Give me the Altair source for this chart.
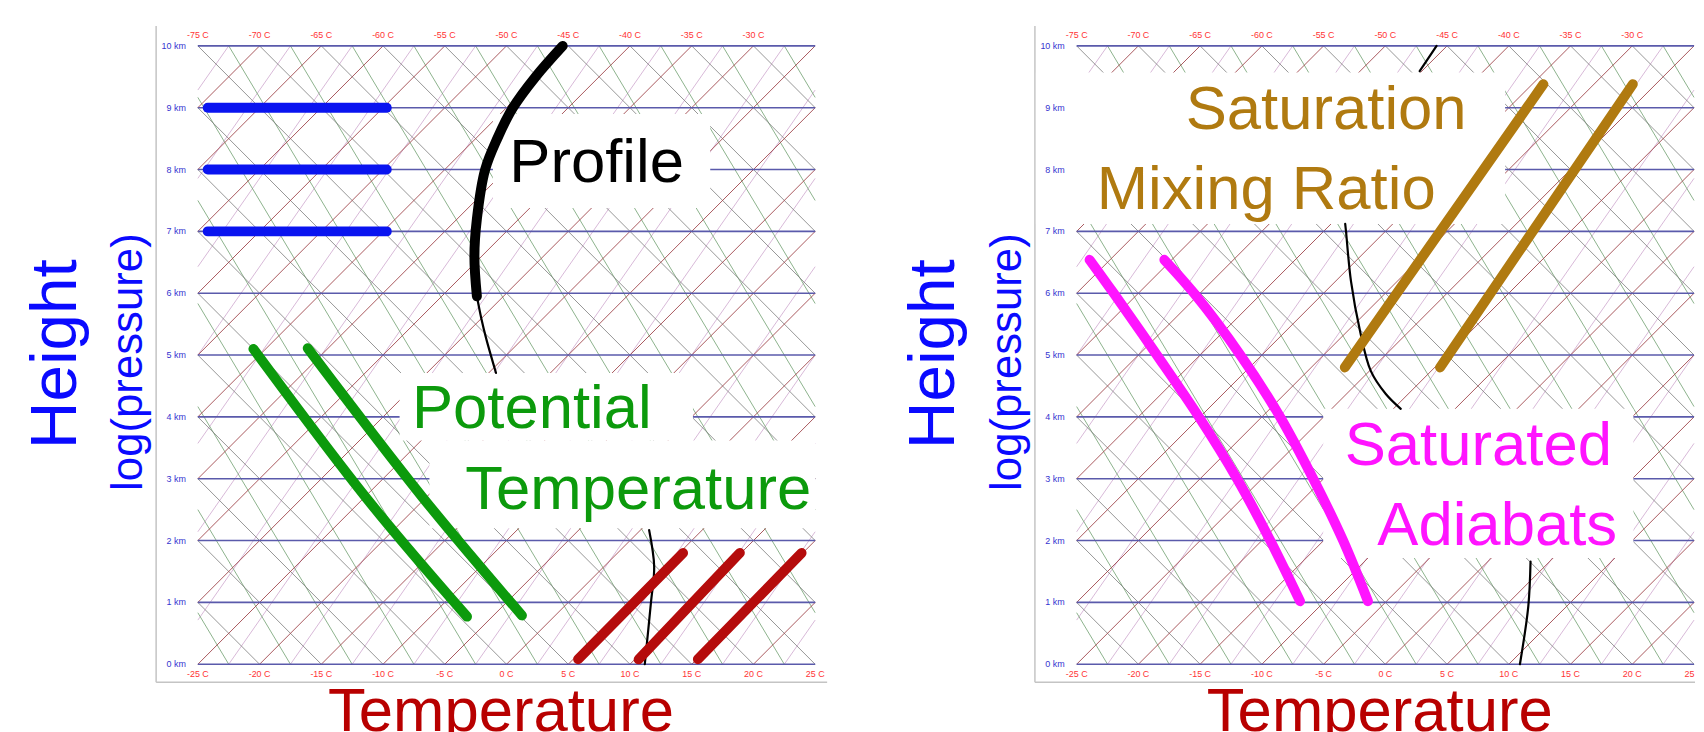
import altair as alt
import pandas as pd

# ---------------- data ----------------
KM_LEVELS = [0, 1, 2, 3, 4, 5, 6, 7, 8, 9, 10]
KM_LABELS = ["0 km", "1 km", "2 km", "3 km", "4 km", "5 km", "6 km", "7 km", "8 km", "9 km", "10 km"]
BOTTOM_TICKS = [-25, -20, -15, -10, -5, 0, 5, 10, 15, 20, 25]
BOTTOM_LABELS = ["-25 C", "-20 C", "-15 C", "-10 C", "-5 C", "0 C", "5 C", "10 C", "15 C", "20 C", "25 C"]
TOP_TICK_POS = [-25, -20, -15, -10, -5, 0, 5, 10, 15, 20]
TOP_LABELS = ["-75 C", "-70 C", "-65 C", "-60 C", "-55 C", "-50 C", "-45 C", "-40 C", "-35 C", "-30 C"]

# background line families: value of each line where it meets the 0 km level
ISOTHERM_BASES = [-75, -70, -65, -60, -55, -50, -45, -40, -35, -30, -25, -20, -15, -10, -5, 0, 5, 10, 15, 20]
DRY_ADIABAT_BASES = [-20, -15, -10, -5, 0, 5, 10, 15, 20, 25, 30, 35, 40, 45, 50, 55, 60, 65, 70, 75]
MOIST_ADIABAT_BASES = [-22.5, -17.5, -12.5, -7.5, -2.5, 2.5, 7.5, 12.5, 17.5, 22.5, 27.5, 32.5, 37.5, 42.5, 47.5, 52.5]
MIXING_RATIO_BASES = [-57.5, -52.5, -47.5, -42.5, -37.5, -32.5, -27.5, -22.5, -17.5, -12.5, -7.5, -2.5, 2.5, 7.5, 12.5, 17.5, 22.5]

# left panel highlight lines (x = skewed temperature position, h = km)
BLUE_LEVELS = [7, 8, 9]
BLUE_X = [-24.2, -9.7]

PROFILE_THICK_X = [4.55, 2.35, 0.52, -0.75, -1.73, -2.4, -2.6, -2.4]
PROFILE_THICK_H = [10.0, 9.5, 9.0, 8.5, 8.0, 7.2, 6.6, 5.95]
PROFILE_THIN_X = [-2.4, -2.05, -1.65, -0.85]
PROFILE_THIN_H = [5.95, 5.6, 5.27, 4.71]
PROFILE_LOW_X = [11.55, 11.96, 11.7, 11.2]
PROFILE_LOW_H = [2.17, 1.58, 1.0, 0.0]

THETA1_X = [-20.5, -11.2, -3.2]
THETA1_H = [5.1, 2.65, 0.77]
THETA2_X = [-16.1, -6.8, 1.25]
THETA2_H = [5.11, 2.7, 0.79]

TEMP_START_X = [5.8, 10.7, 15.5]
TEMP_END_X = [14.3, 18.9, 23.9]
TEMP_H = [0.08, 1.80]

# right panel
R_PROFILE_TOP_X = [4.15, 2.78]
R_PROFILE_TOP_H = [10.0, 9.59]
R_PROFILE_MID_X = [-3.25, -3.18, -2.78, -2.05, -1.17, 0.04, 1.25]
R_PROFILE_MID_H = [7.12, 6.99, 6.19, 5.39, 4.74, 4.37, 4.13]
R_PROFILE_LOW_X = [11.76, 11.58, 10.9]
R_PROFILE_LOW_H = [1.66, 0.94, 0.0]

MIX1_X = [-3.28, 12.8]
MIX2_X = [4.43, 20.04]
MIX_H = [4.8, 9.38]

SAT1_X = [-23.95, -22.0, -18.5, -15.1, -12.01, -9.32, -6.91]
SAT2_X = [-17.9, -15.5, -11.74, -8.52, -5.84, -3.42, -1.41]
SAT_H = [6.54, 6.0, 5.0, 4.0, 3.0, 2.0, 1.02]

# ---------------- helpers ----------------
FONT = "Liberation Sans"
Y_DOMAIN = [-0.29, 10.32]
PLOT_H = 660


def clip_segment(x0, s):
    lo, hi = 0.0, 10.0
    ha = (-25 - x0) / s
    hb = (25 - x0) / s
    lo = max(lo, min(ha, hb))
    hi = min(hi, max(ha, hb))
    if hi <= lo:
        return None
    return (x0 + s * lo, lo, x0 + s * hi, hi)


def family(bases, slope):
    rows = []
    for b in bases:
        seg = clip_segment(b, slope)
        if seg:
            rows.append(dict(x1=seg[0], h1=seg[1], x2=seg[2], h2=seg[3]))
    return pd.DataFrame(rows)


def line_df(series):
    rows = []
    for sid, (xs, hs) in enumerate(series):
        for i, (x, h) in enumerate(zip(xs, hs)):
            rows.append(dict(s=sid, o=i, x=x, h=h))
    return pd.DataFrame(rows)


def panel(side):
    if side == "left":
        width, xdom = 675, [-28.38, 25.97]
    else:
        width, xdom = 664, [-28.38, 25.08]
    xs = alt.Scale(domain=xdom, nice=False, zero=False)
    ys = alt.Scale(domain=Y_DOMAIN, nice=False, zero=False)

    def X(f, **kw):
        return alt.X(f, scale=xs, axis=None, **kw)

    def Y(f, **kw):
        return alt.Y(f, scale=ys, axis=None, **kw)

    layers = []

    # frame: left and bottom border of the panel
    one = pd.DataFrame({"t": [0]})
    layers.append(alt.Chart(one).mark_rule(color="#c4c4c4", strokeWidth=1.5).encode(
        x=alt.X(datum=xdom[0], scale=xs, axis=None),
        y=alt.Y(datum=Y_DOMAIN[0], scale=ys, axis=None), y2=alt.Y2(datum=Y_DOMAIN[1])))
    layers.append(alt.Chart(one).mark_rule(color="#c4c4c4", strokeWidth=1.5).encode(
        x=alt.X(datum=xdom[0], scale=xs, axis=None), x2=alt.X2(datum=xdom[1]),
        y=alt.Y(datum=Y_DOMAIN[0], scale=ys, axis=None)))

    fams = [
        (MIXING_RATIO_BASES, 3.5, "#c79ac7", 0.7),
        (MOIST_ADIABAT_BASES, -3.0, "#6f9f6f", 0.8),
        (DRY_ADIABAT_BASES, -5.0, "#7c7c7c", 0.8),
        (ISOTHERM_BASES, 5.0, "#a0474c", 0.9),
    ]
    for bases, slope, col, w in fams:
        layers.append(alt.Chart(family(bases, slope)).mark_rule(color=col, strokeWidth=w).encode(
            x=X("x1:Q"), x2="x2:Q", y=Y("h1:Q"), y2="h2:Q"))

    km = pd.DataFrame({"h": KM_LEVELS, "label": KM_LABELS})
    layers.append(alt.Chart(km).mark_rule(color="#5a5aab", strokeWidth=1.6).encode(
        x=alt.X(datum=-25, scale=xs, axis=None), x2=alt.X2(datum=25), y=Y("h:Q")))

    # white boxes behind annotations
    if side == "left":
        boxes = pd.DataFrame({"xa": [-1.1, -8.66, -6.24], "xb": [16.5, 15.1, 25.0],
                              "ha": [7.38, 3.62, 2.2], "hb": [8.9, 4.71, 3.62]})
    else:
        boxes = pd.DataFrame({"xa": [-28.3, -5.03], "xb": [9.7, 20.09],
                              "ha": [7.12, 1.72], "hb": [9.57, 4.13]})
    layers.append(alt.Chart(boxes).mark_rect(color="white").encode(
        x=X("xa:Q"), x2="xb:Q", y=Y("ha:Q"), y2="hb:Q"))

    # tick labels
    layers.append(alt.Chart(km).mark_text(fontSize=9, font=FONT, color="#3434d0", align="right",
                                          baseline="middle", dx=-12, clip=True).encode(
        x=alt.X(datum=-25, scale=xs, axis=None), y=Y("h:Q"), text="label:N"))
    bt = pd.DataFrame({"x": BOTTOM_TICKS, "label": BOTTOM_LABELS})
    layers.append(alt.Chart(bt).mark_text(fontSize=9, font=FONT, color="#ff3434", baseline="middle",
                                          dy=10, clip=True).encode(
        x=X("x:Q"), y=alt.Y(datum=0, scale=ys, axis=None), text="label:N"))
    tt = pd.DataFrame({"x": TOP_TICK_POS, "label": TOP_LABELS})
    layers.append(alt.Chart(tt).mark_text(fontSize=9, font=FONT, color="#ff3434", baseline="middle",
                                          dy=-11, clip=True).encode(
        x=X("x:Q"), y=alt.Y(datum=10, scale=ys, axis=None), text="label:N"))

    def thick(series, color, w, interp="linear"):
        return alt.Chart(line_df(series)).mark_line(color=color, strokeWidth=w, strokeCap="round",
                                                    strokeJoin="round", interpolate=interp).encode(
            x=X("x:Q"), y=Y("h:Q"), detail="s:N", order="o:Q")

    def label(txt, x, h, color, size=62):
        return alt.Chart(pd.DataFrame({"t": [txt]})).mark_text(
            fontSize=size, font=FONT, color=color, align="center", baseline="alphabetic").encode(
            x=alt.X(datum=x, scale=xs, axis=None), y=alt.Y(datum=h, scale=ys, axis=None), text="t:N")

    if side == "left":
        layers.append(thick([(BLUE_X, [lv, lv]) for lv in BLUE_LEVELS], "#0a14f0", 10))
        layers.append(thick([(PROFILE_THICK_X, PROFILE_THICK_H)], "#000000", 10, "catmull-rom"))
        layers.append(thick([(PROFILE_THIN_X, PROFILE_THIN_H), (PROFILE_LOW_X, PROFILE_LOW_H)],
                            "#000000", 2.2, "catmull-rom"))
        layers.append(thick([(THETA1_X, THETA1_H), (THETA2_X, THETA2_H)], "#0c9a0c", 10, "catmull-rom"))
        layers.append(thick([([a, b], TEMP_H) for a, b in zip(TEMP_START_X, TEMP_END_X)], "#b50c0c", 10))
        layers.append(label("Profile", 7.3, 7.8, "#000000"))
        layers.append(label("Potential", 2.05, 3.82, "#0c9a0c"))
        layers.append(label("Temperature", 10.67, 2.51, "#0c9a0c"))
    else:
        layers.append(thick([(R_PROFILE_TOP_X, R_PROFILE_TOP_H), (R_PROFILE_MID_X, R_PROFILE_MID_H),
                             (R_PROFILE_LOW_X, R_PROFILE_LOW_H)], "#000000", 2.2, "catmull-rom"))
        layers.append(thick([(MIX1_X, MIX_H), (MIX2_X, MIX_H)], "#b07a10", 10))
        layers.append(thick([(SAT1_X, SAT_H), (SAT2_X, SAT_H)], "#ff14ff", 10, "catmull-rom"))
        layers.append(label("Saturation", -4.79, 8.66, "#b07a10"))
        layers.append(label("Mixing Ratio", -9.65, 7.37, "#b07a10"))
        layers.append(label("Saturated", 7.53, 3.22, "#ff14ff"))
        layers.append(label("Adiabats", 9.06, 1.93, "#ff14ff"))

    # outside titles
    layers.append(alt.Chart(one).mark_text(fontSize=66, font=FONT, color="#0a0aff", angle=270,
                                           align="center", baseline="middle").encode(
        x=alt.value(-101), y=alt.value(330), text=alt.value("Height")))
    layers.append(alt.Chart(one).mark_text(fontSize=44, font=FONT, color="#0a0aff", angle=270,
                                           align="center", baseline="middle").encode(
        x=alt.value(-27), y=alt.value(338), text=alt.value("log(pressure)")))
    layers.append(alt.Chart(one).mark_text(fontSize=62, font=FONT, color="#b80000",
                                           align="center", baseline="alphabetic").encode(
        x=alt.X(datum=-0.45, scale=xs, axis=None), y=alt.value(709), text=alt.value("Temperature")))

    return alt.layer(*layers).properties(width=width, height=PLOT_H)


chart = alt.hconcat(panel("left"), panel("right"), spacing=74).properties(
    padding={"left": 15, "top": 15, "right": 0, "bottom": 0}
).configure_view(stroke=None)

chart.save("out.html", embed_options={"renderer": "svg", "actions": False})
